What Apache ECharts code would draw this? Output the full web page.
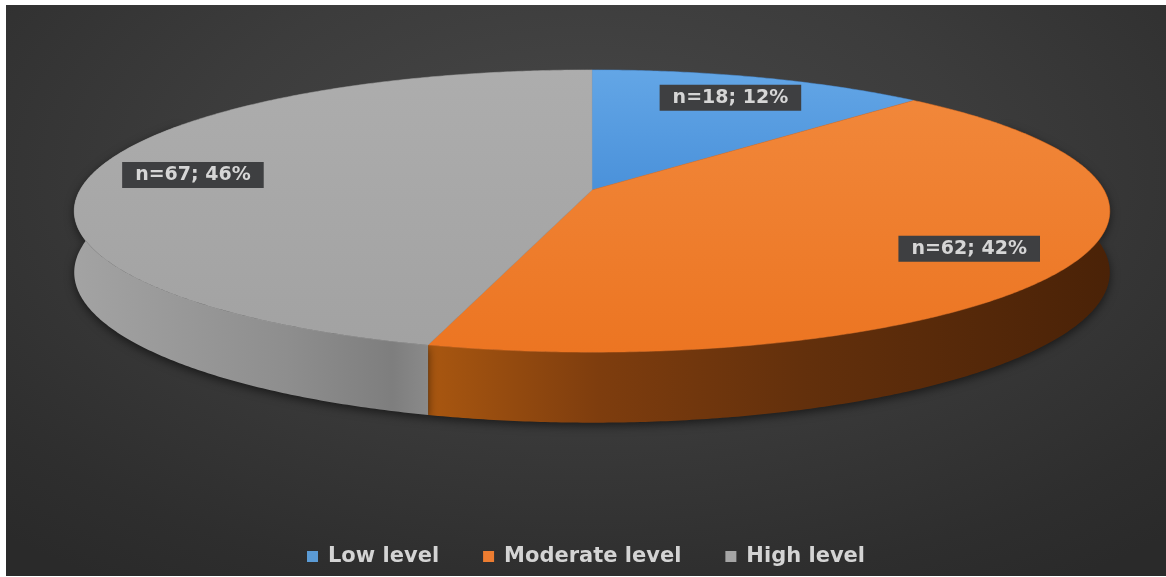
<!DOCTYPE html>
<html>
<head>
<meta charset="utf-8">
<script src="https://cdn.jsdelivr.net/npm/echarts@6/dist/echarts.min.js"></script>
<style>
  html, body { margin: 0; padding: 0; background: #ffffff; }
  #chart {
    position: absolute; left: 6px; top: 5px; width: 1160px; height: 571px;
    background: radial-gradient(ellipse 75% 85% at 50% 30%, #484848 0%, #3c3c3c 45%, #2e2e2e 85%, #2a2a2a 100%);
  }
</style>
</head>
<body>
<div id="chart"></div>
<script>
// ---- data ----
const categories = ['Low level', 'Moderate level', 'High level'];
const counts = [18, 62, 67];

// ---- styles ----
const topColors = [
  ['#63a6e6', '#4a91da'],
  ['#f1873a', '#ec7522'],
  ['#adadad', '#a2a2a2']
];
const legendColors = ['#5b9bd5', '#ed7d31', '#a5a5a5'];
const sideStops = [
  [[0, '#3f6f9e'], [1, '#2c4f73']],
  [[0, '#a95710'], [0.25, '#7e3d0e'], [0.55, '#63300c'], [1, '#4a2207']],
  [[0, '#a3a3a3'], [0.6, '#8e8e8e'], [0.9, '#7e7e7e'], [1, '#8a8a8a']]
];

// ---- geometry (perspective ellipse) ----
const G = { cx: 586, cy: 185, a: 512, b: 138, d: 6.71, t: 60, labelR: 0.8 };

const total = counts.reduce((s, v) => s + v, 0);
const starts = [];
{ let acc = 0; counts.forEach(v => { starts.push(acc); acc += v; }); }

function proj(theta, r, drop) {
  const u = r * Math.sin(theta), z = r * Math.cos(theta);
  const s = G.d / (G.d + z);
  return [G.cx + G.a * u * s, G.cy - G.b * z * s + (drop ? G.t * s : 0)];
}

function arcPoints(a0, a1, drop) {
  const pts = [];
  const n = Math.max(2, Math.ceil((a1 - a0) / (Math.PI / 360)));
  for (let k = 0; k <= n; k++) {
    pts.push(proj(a0 + (a1 - a0) * k / n, 1, drop));
  }
  return pts;
}

function makeRender(i) {
  return function (params, api) {
    const v = api.value(0);
    const a0 = starts[i] / total * Math.PI * 2;
    const a1 = (starts[i] + v) / total * Math.PI * 2;
    const children = [];

    // side wall (only the front-facing part can show)
    const lo = Math.max(a0, Math.PI * 60 / 180), hi = Math.min(a1, Math.PI * 300 / 180);
    if (hi > lo) {
      const topArc = arcPoints(lo, hi, false);
      const botArc = arcPoints(lo, hi, true).reverse();
      const xs = topArc.map(p => p[0]);
      const minX = Math.min.apply(null, xs), maxX = Math.max.apply(null, xs);
      children.push({
        type: 'polygon',
        z2: 1,
        shape: { points: topArc.concat(botArc) },
        style: {
          fill: new echarts.graphic.LinearGradient(minX, 0, maxX, 0,
            sideStops[i].map(s => ({ offset: s[0], color: s[1] })), true),
          shadowBlur: 10, shadowColor: 'rgba(0,0,0,0.55)', shadowOffsetY: 3
        }
      });
    }

    // top face
    const apex = proj(0, 0, false);
    const pts = [apex].concat(arcPoints(a0, a1, false));
    children.push({
      type: 'polygon',
      z2: 10,
      shape: { points: pts },
      style: {
        fill: new echarts.graphic.LinearGradient(0, 0, 0, 1, [
          { offset: 0, color: topColors[i][0] },
          { offset: 1, color: topColors[i][1] }
        ]),
        stroke: topColors[i][1], lineWidth: 0.5
      }
    });

    // data label
    const mid = (a0 + a1) / 2;
    const lp = proj(mid, G.labelR, false);
    const pct = Math.round(v / total * 100);
    children.push({
      type: 'text',
      z2: 30,
      x: lp[0], y: lp[1],
      style: {
        text: 'n=' + v + '; ' + pct + '%',
        fill: '#d6d6d6',
        font: 'bold 19px "DejaVu Sans"',
        align: 'center', verticalAlign: 'middle',
        backgroundColor: '#3e3f41',
        padding: [4, 13, 3, 13]
      }
    });

    return { type: 'group', children: children };
  };
}

const chart = echarts.init(document.getElementById('chart'), null, { renderer: 'canvas' });
chart.setOption({
  backgroundColor: 'transparent',
  animation: false,
  legend: {
    data: categories,
    left: 'center',
    top: 536,
    icon: 'rect',
    itemWidth: 11,
    itemHeight: 11,
    itemGap: 44,
    textStyle: {
      color: '#d4d4d4',
      fontFamily: 'DejaVu Sans',
      fontWeight: 'bold',
      fontSize: 21,
      padding: [0, 0, 0, 5]
    }
  },
  series: categories.map((name, i) => ({
    type: 'custom',
    name: name,
    coordinateSystem: 'none',
    itemStyle: { color: legendColors[i] },
    renderItem: makeRender(i),
    data: [[counts[i]]],
    silent: true
  }))
});
</script>
</body>
</html>
